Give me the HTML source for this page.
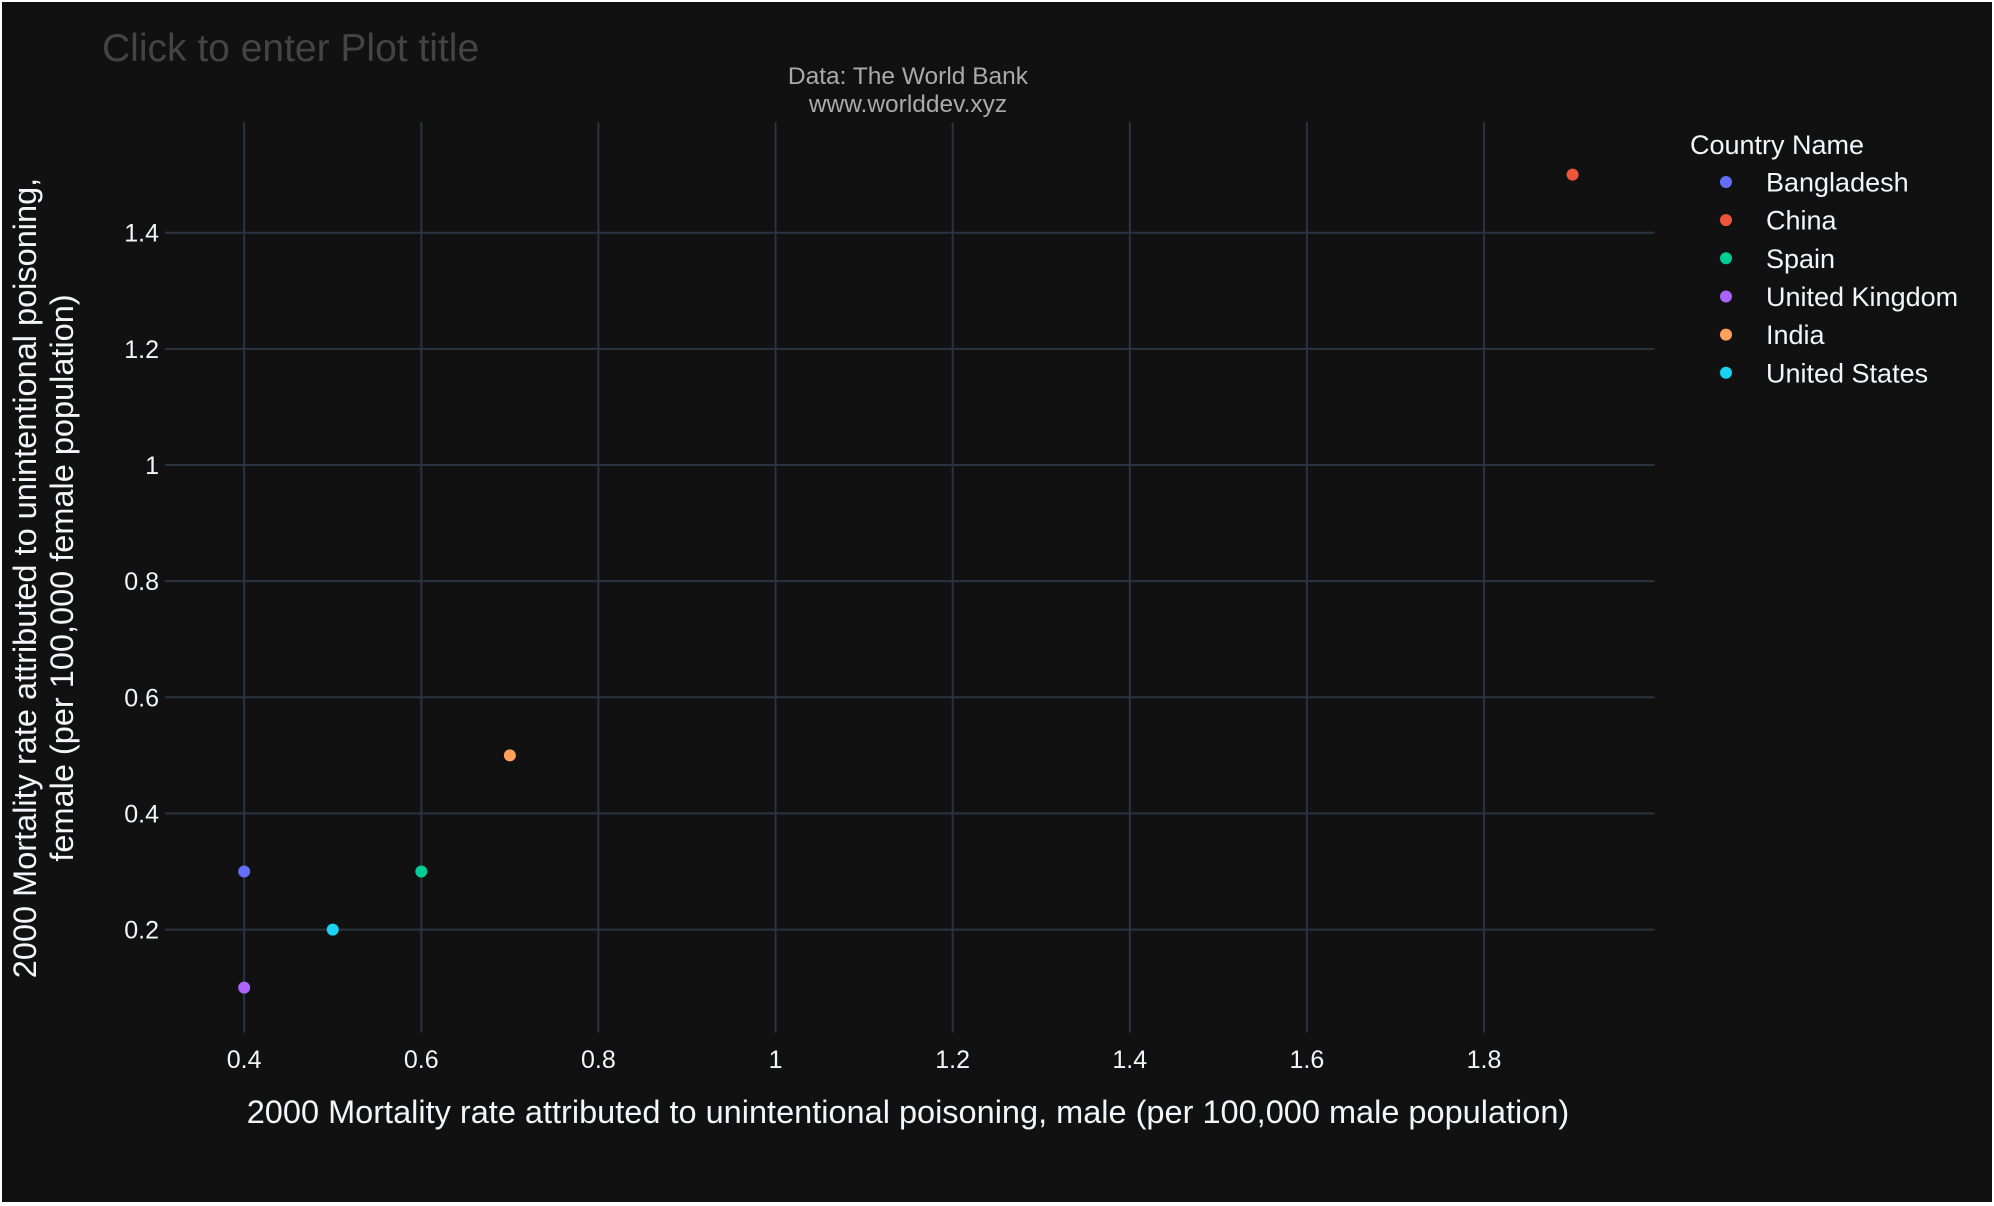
<!DOCTYPE html>
<html><head><meta charset="utf-8"><style>
html,body{margin:0;padding:0;background:#fff;}
#wrap{width:1994px;height:1206px;overflow:hidden;}
svg{display:block;font-family:"Liberation Sans","DejaVu Sans",sans-serif;}
</style></head><body>
<div id="wrap">
<svg id="chart" width="1994" height="1206">
<rect x="2" y="2" width="1990" height="1200" fill="#111111"/>
<g id="grid"></g>
<g id="ticks"></g>
<g id="points"></g>
<text x="102" y="61" font-size="39" fill="#444">Click to enter Plot title</text>
<text x="908" y="84" font-size="24.5" fill="#aaa" text-anchor="middle">Data: The World Bank</text>
<text x="908" y="112" font-size="24.5" fill="#aaa" text-anchor="middle">www.worlddev.xyz</text>
<text x="908" y="1123" font-size="32.5" fill="#f2f5fa" text-anchor="middle">2000 Mortality rate attributed to unintentional poisoning, male (per 100,000 male population)</text>
<g transform="translate(36,578) rotate(-90)">
<text x="0" y="0" font-size="32.5" fill="#f2f5fa" text-anchor="middle">2000 Mortality rate attributed to unintentional poisoning,</text>
<text x="0" y="37" font-size="32.5" fill="#f2f5fa" text-anchor="middle">female (per 100,000 female population)</text>
</g>
<text x="1690" y="154" font-size="27" fill="#f2f5fa">Country Name</text>
<g id="legend"></g>
</svg>
</div>
<script>
const countries=["Bangladesh","China","Spain","United Kingdom","India","United States"];
const maleValues=[0.4,1.9,0.6,0.4,0.7,0.5];
const femaleValues=[0.3,1.5,0.3,0.1,0.5,0.2];
const xTicks=[0.4,0.6,0.8,1,1.2,1.4,1.6,1.8];
const yTicks=[0.2,0.4,0.6,0.8,1,1.2,1.4];
const colors=["#636efa","#EF553B","#00cc96","#ab63fa","#FFA15A","#19d3f3"];
const L=165,R=1654.5,T=122,B=1032.6;
const xMin=0.3106,xMax=1.9925,yMin=0.0226,yMax=1.5906;
function xs(v){return L+(v-xMin)/(xMax-xMin)*(R-L);}
function ys(v){return B-(v-yMin)/(yMax-yMin)*(B-T);}
const NS="http://www.w3.org/2000/svg";
const grid=document.getElementById('grid'),ticks=document.getElementById('ticks'),pts=document.getElementById('points'),leg=document.getElementById('legend');
function mk(tag,attrs,parent){const e=document.createElementNS(NS,tag);for(const k in attrs)e.setAttribute(k,attrs[k]);parent.appendChild(e);return e;}
xTicks.forEach(v=>{
  const l=mk('line',{x1:xs(v),x2:xs(v),y1:T,y2:B,stroke:'#283442','stroke-width':2},grid);
  
  
  const t=mk('text',{x:xs(v),y:1068,'font-size':25,fill:'#f2f5fa','text-anchor':'middle'},ticks);
  t.textContent=String(v);
  
  
});
yTicks.forEach(v=>{
  const l=mk('line',{x1:L,x2:R,y1:ys(v),y2:ys(v),stroke:'#283442','stroke-width':2},grid);
  
  
  const t=mk('text',{x:159,y:ys(v)+9,'font-size':25,fill:'#f2f5fa','text-anchor':'end'},ticks);
  t.textContent=String(v);
  
  
});
countries.forEach((c,i)=>{
  const p=mk('circle',{cx:xs(maleValues[i]),cy:ys(femaleValues[i]),r:6,fill:colors[i]},pts);
  
  
  const y=182+i*38.15;
  const g=mk('g',{},leg);
  
  
  mk('circle',{cx:1726,cy:y,r:6,fill:colors[i]},g);
  const t=mk('text',{x:1766,y:y+9.5,'font-size':27,fill:'#f2f5fa'},g);
  t.textContent=c;
});
</script>
</body></html>
